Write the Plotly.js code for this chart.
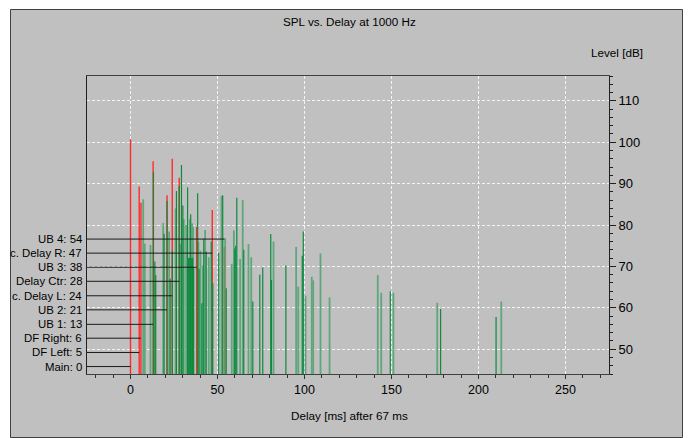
<!DOCTYPE html>
<html>
<head>
<meta charset="utf-8">
<script src="https://cdn.plot.ly/plotly-3.0.1.min.js"></script>
<style>
  html, body { margin: 0; padding: 0; background: #ffffff; }
  #chart { width: 689px; height: 438px; }
</style>
</head>
<body>
<div id="chart"></div>
<script>
// ---- data ----
const sourceLabels = ["Main: 0", "DF Left: 5", "DF Right: 6", "UB 1: 13", "UB 2: 21",
                      "c. Delay L: 24", "Delay Ctr: 28", "UB 3: 38", "c. Delay R: 47", "UB 4: 54"];
const sourceDelays = [0, 5, 6, 13, 21, 24, 28, 38, 47, 54];
const sourceMarkerLevels = [45.8, 49.2, 52.65, 56.0, 59.5, 62.9, 66.4, 69.8, 73.2, 76.6];

// direct-sound arrivals (red)
const redDelay = [0, 5, 6, 13, 21, 24, 28, 38, 47, 54];
const redLevel = [100.7, 89.3, 85.4, 95.4, 87.2, 96.0, 91.4, 79.5, 83.6, 74.7];

// reflections, strong colour
const darkDelay = [13.2, 14.0, 14.5, 19.3, 21.0, 22.8, 24.0, 26.4, 28.0, 28.4, 29.3, 30.1,
                   32.8, 33.2, 33.7, 34.2, 34.6, 35.2, 35.7, 36.3, 38.6, 39.4, 41.0, 42.1,
                   43.5, 46.4, 47.3, 50.7, 53.0, 55.0, 59.9, 60.5, 61.1, 65.1, 70.3, 74.3,
                   76.0, 80.6, 81.0, 89.3, 98.7, 99.3, 149.3, 178.2, 210.1];
const darkLevel = [92.8, 71.2, 67.9, 77.9, 85.8, 67.0, 73.8, 88.2, 89.4, 75.4, 94.5, 84.7,
                   89.1, 72.0, 72.0, 72.0, 82.6, 72.0, 72.0, 69.8, 87.7, 69.4, 61.1, 76.6,
                   73.6, 76.0, 65.9, 73.3, 87.2, 64.7, 74.3, 75.0, 86.6, 74.0, 61.5, 68.0,
                   69.8, 77.8, 66.7, 70.2, 72.6, 78.4, 64.0, 59.7, 57.8];

// reflections, pale colour
const lightDelay = [7.3, 8.2, 11.5, 18.8, 22.2, 25.9, 30.6, 32.0, 34.1, 35.5, 36.0, 39.0,
                    40.2, 41.6, 42.9, 45.0, 52.3, 54.4, 58.2, 59.4, 63.0, 64.5, 67.8, 69.4,
                    82.2, 95.2, 96.4, 100.6, 104.2, 105.0, 109.2, 114.4, 142.1, 144.1, 151.1,
                    176.3, 213.1];
const lightLevel = [86.2, 75.5, 75.2, 80.5, 78.4, 84.0, 81.4, 80.0, 81.4, 80.4, 79.5, 76.0,
                    73.8, 70.2, 78.8, 72.2, 87.0, 76.8, 70.6, 78.7, 71.8, 86.0, 75.4, 72.2,
                    76.0, 74.7, 65.1, 62.9, 67.5, 66.6, 73.1, 62.5, 67.9, 63.6, 63.6,
                    61.2, 61.5];

const xTicks = [0, 50, 100, 150, 200, 250];
const yTicks = [50, 60, 70, 80, 90, 100, 110];

// ---- layout geometry ----
const W = 689, H = 438;
const L = 87, R = 609, T = 76, B = 374;
const X_MIN = -25, X_MAX = 275, Y_MIN = 44, Y_MAX = 116;
const px2x = p => (p - L) / (R - L);
const px2y = p => (B - p) / (B - T);

const FONT = "Liberation Sans, Arial, sans-serif";
const NARROW = "Liberation Sans Narrow, Arial Narrow, Liberation Sans, sans-serif";

// vertical impulse lines from the axis floor up to each level
function stems(xs, ys, color, width) {
  const x = [], y = [];
  xs.forEach((d, i) => { x.push(d, d, null); y.push(Y_MIN, ys[i], null); });
  return {
    type: 'scatter', mode: 'lines', x: x, y: y,
    line: { color: color, width: width }, hoverinfo: 'skip', showlegend: false
  };
}

const traces = [];
traces.push(stems(redDelay, redLevel, '#ff2b2b', 1.4));
traces.push(stems(lightDelay, lightLevel, '#5fa67b', 1.8));
traces.push(stems(darkDelay, darkLevel, '#0c8a3e', 1.2));

// source marker lines, drawn over the impulses
const lx = [], ly = [];
sourceDelays.forEach((d, i) => {
  lx.push(X_MIN, d, null);
  ly.push(sourceMarkerLevels[i], sourceMarkerLevels[i], null);
});
traces.push({
  type: 'scatter', mode: 'lines', x: lx, y: ly,
  line: { color: '#1a1a1a', width: 1 }, hoverinfo: 'skip', showlegend: false
});

const annotations = [];
sourceLabels.forEach((s, i) => {
  annotations.push({
    xref: 'paper', yref: 'y', x: px2x(83.5), y: sourceMarkerLevels[i],
    xanchor: 'right', yanchor: 'middle', text: s, showarrow: false,
    font: { family: FONT, size: 11.4, color: '#000' }
  });
});
annotations.push({
  xref: 'paper', yref: 'paper', x: px2x(349), y: px2y(22),
  xanchor: 'center', yanchor: 'middle', text: 'SPL vs. Delay at 1000 Hz', showarrow: false,
  font: { family: FONT, size: 11.7, color: '#000' }
});
annotations.push({
  xref: 'paper', yref: 'paper', x: px2x(645), y: px2y(53),
  xanchor: 'right', yanchor: 'middle', text: 'Level [dB]', showarrow: false,
  font: { family: FONT, size: 11.7, color: '#000' }
});
annotations.push({
  xref: 'paper', yref: 'paper', x: px2x(349), y: px2y(415),
  xanchor: 'center', yanchor: 'middle', text: 'Delay [ms] after 67 ms', showarrow: false,
  font: { family: FONT, size: 11.7, color: '#000' }
});

const layout = {
  width: W, height: H,
  margin: { l: L, r: W - R, t: T, b: H - B, pad: 0 },
  paper_bgcolor: '#ffffff',
  plot_bgcolor: 'rgba(0,0,0,0)',
  showlegend: false,
  xaxis: {
    range: [X_MIN, X_MAX], tickvals: xTicks, ticktext: xTicks.map(String),
    ticks: 'outside', ticklen: 4, tickwidth: 1, tickcolor: '#303030',
    showline: true, linecolor: '#404040', linewidth: 1, mirror: true,
    showgrid: true, gridcolor: '#f4f4f4', gridwidth: 1, griddash: '3px,2px',
    zeroline: false,
    minor: { dtick: 10, tick0: 0, ticks: 'outside', ticklen: 3, tickcolor: '#303030', showgrid: false },
    tickfont: { family: NARROW, size: 12.5, color: '#000' }
  },
  yaxis: {
    side: 'right',
    range: [Y_MIN, Y_MAX], tickvals: yTicks, ticktext: yTicks.map(String),
    ticks: 'outside', ticklen: 6, tickwidth: 1, tickcolor: '#202020',
    showline: true, linecolor: '#202020', linewidth: 1, mirror: true,
    showgrid: true, gridcolor: '#f4f4f4', gridwidth: 1, griddash: '3px,2px',
    zeroline: false,
    minor: { dtick: 2, tick0: 0, ticks: 'outside', ticklen: 3, tickcolor: '#202020', showgrid: false },
    tickfont: { family: NARROW, size: 13, color: '#000' }
  },
  shapes: [{
    type: 'rect', xref: 'paper', yref: 'paper', layer: 'below',
    x0: px2x(10.5), x1: px2x(682.5), y0: px2y(437.5), y1: px2y(9.5),
    fillcolor: '#c0c0c0', line: { color: '#404040', width: 1 }
  }],
  annotations: annotations
};

Plotly.newPlot('chart', traces, layout, { staticPlot: true, displayModeBar: false });
</script>
</body>
</html>
